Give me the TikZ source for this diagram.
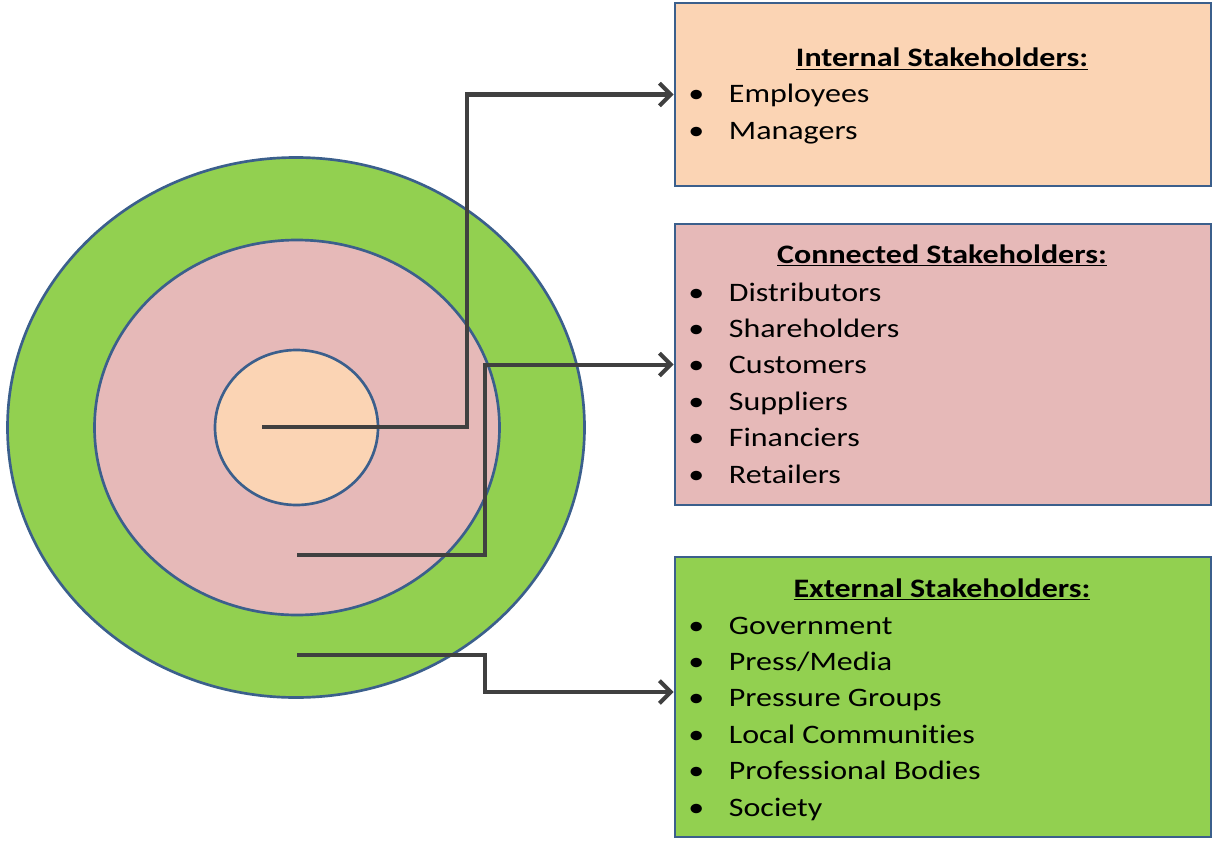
\documentclass[tikz,border=0pt]{standalone}
\usepackage{fontspec}
\setmainfont{Carlito}[FakeStretch=1.2,RawFeature=-liga]
\usepackage{tikz}
\usetikzlibrary{arrows.meta}
\usetikzlibrary{shapes.geometric}

\definecolor{peach}{HTML}{FBD4B4}
\definecolor{rose}{HTML}{E6B9B8}
\definecolor{leaf}{HTML}{92D050}
\definecolor{rim}{HTML}{3B5F8C}
\definecolor{wire}{HTML}{404040}

\begin{document}
\begin{tikzpicture}[x=0.75pt,y=-0.75pt,
  ring/.style={ellipse,draw=rim,line width=2pt,inner sep=0pt},
  panel/.style={rectangle,draw=rim,line width=2.2pt,minimum width=402pt,inner sep=0pt},
  head/.style={anchor=base,inner sep=0pt,font=\fontsize{20}{27}\selectfont\bfseries},
  item/.style={anchor=base west,inner sep=0pt,font=\fontsize{20}{27}\selectfont,
    execute at begin node={\makebox[30.5pt][l]{\textbullet}}},
  link/.style={draw=wire,line width=3pt,-{Straight Barb[length=8.5pt,width=17pt]}}]
  \useasboundingbox (0,0) rectangle (1213,842);
  \node[ring,fill=leaf,minimum width=432.75pt,minimum height=405pt] (outer) at (296,427.5) {};
  \node[ring,fill=rose,minimum width=303.75pt,minimum height=281.25pt] (middle) at (297,427.5) {};
  \node[ring,fill=peach,minimum width=122.25pt,minimum height=116.25pt] (inner) at (296.5,427.5) {};
  \node[panel,fill=peach,minimum height=137.25pt] (int) at (943,94.5) {};
  \node[panel,fill=rose,minimum height=210.75pt] (con) at (943,364.5) {};
  \node[panel,fill=leaf,minimum height=210pt] (ext) at (943,697) {};
  \node[head] (inthead) at (942,67) {\underline{Internal Stakeholders:}};
  \node[item] (emp) at (688,103) {Employees};
  \node[item] (man) at (688,139) {Managers};
  \node[head] (conhead) at (942,263) {\underline{Connected Stakeholders:}};
  \node[item] (dist) at (688,301) {Distributors};
  \node[item] (share) at (688,337) {Shareholders};
  \node[item] (cust) at (688,373) {Customers};
  \node[item] (supp) at (688,410) {Suppliers};
  \node[item] (fin) at (688,446) {Financiers};
  \node[item] (ret) at (688,483) {Retailers};
  \node[head] (exthead) at (942,597) {\underline{External Stakeholders:}};
  \node[item] (gov) at (688,634) {Government};
  \node[item] (press) at (688,670) {Press/Media};
  \node[item] (pg) at (688,706) {Pressure Groups};
  \node[item] (loc) at (688,743) {Local Communities};
  \node[item] (prof) at (688,779) {Professional Bodies};
  \node[item] (soc) at (688,816) {Society};
  \coordinate (c1) at (262,427);
  \coordinate (c2) at (297,555);
  \coordinate (c3) at (297,655);
  \draw[link] (c1) -- ++(205,0) |- (int.west);
  \draw[link] (c2) -- ++(188,0) |- (con.west);
  \draw[link] (c3) -- ++(188,0) |- ([yshift=3.75pt]ext.west);
\end{tikzpicture}
\end{document}
